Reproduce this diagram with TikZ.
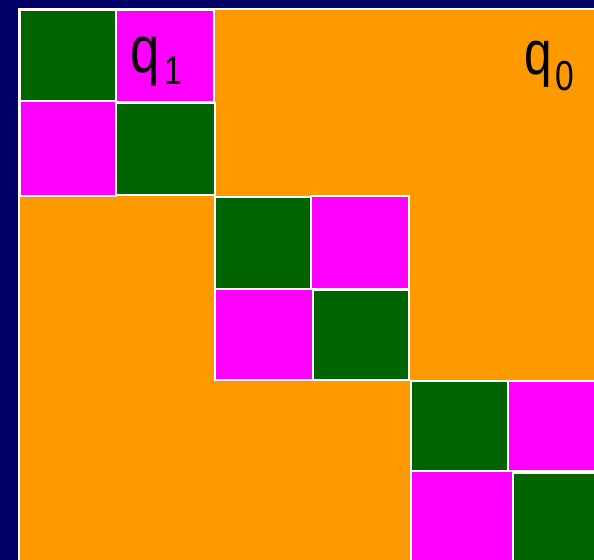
\documentclass[tikz,border=0pt]{standalone}
\usepackage{fontspec}
\setmainfont{Liberation Sans}
\definecolor{navybg}{RGB}{0,0,102}
\definecolor{blkorange}{RGB}{255,153,0}
\definecolor{blkgreen}{RGB}{0,100,0}
\definecolor{blkmagenta}{RGB}{255,0,255}
\tikzset{
  cell/.style={draw=white, line width=2bp},
  gcell/.style={cell, fill=blkgreen},
  mcell/.style={cell, fill=blkmagenta},
  ocell/.style={cell, fill=blkorange},
  qlabel/.style={anchor=base west, inner sep=0pt, text=black}
}
\begin{document}
\begin{tikzpicture}[x=1bp,y=-1bp]
\useasboundingbox (0,0) rectangle (594,560);
\clip (0,0) rectangle (594,560);
\fill[navybg] (-5,-5) rectangle (600,570);
% outer orange area
\draw[ocell] (19,9) rectangle (610,580);
% block 1
\draw[gcell] (20,10) rectangle (116,101);
\draw[mcell] (116,10) rectangle (214,102);
\draw[mcell] (20,101) rectangle (116,196);
\draw[gcell] (116,103) rectangle (215,195);
% block 2
\draw[gcell] (215,197) rectangle (311,289);
\draw[mcell] (311,196) rectangle (409,289);
\draw[mcell] (215,289) rectangle (313,380);
\draw[gcell] (313,290) rectangle (409,380);
% block 3
\draw[gcell] (411,381) rectangle (508,471);
\draw[mcell] (508,381) rectangle (610,471);
\draw[mcell] (411,471) rectangle (513,580);
\draw[gcell] (513,473) rectangle (610,580);
% labels
\node[qlabel] (q1) at (130,73) {\scalebox{0.8}[1]{\fontsize{66bp}{66bp}\selectfont q\hspace{6bp}\raisebox{-12bp}{\fontsize{40bp}{40bp}\selectfont 1}}};
\node[qlabel] (q0) at (524,75) {\scalebox{0.8}[1]{\fontsize{62bp}{62bp}\selectfont q\hspace{5bp}\raisebox{-16bp}{\fontsize{42bp}{42bp}\selectfont 0}}};
\end{tikzpicture}
\end{document}
